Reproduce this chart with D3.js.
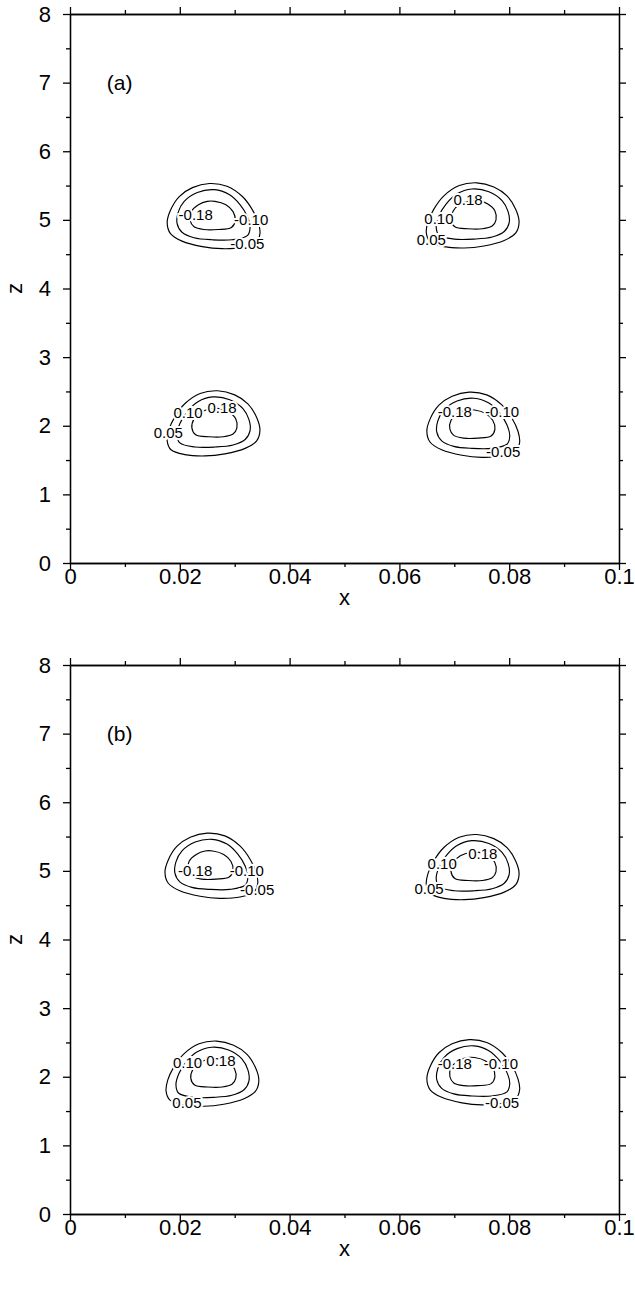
<!DOCTYPE html>
<html>
<head>
<meta charset="utf-8">
<script src="https://cdn.jsdelivr.net/npm/d3@7"></script>
<style>
    body { margin: 0; background: #fff; }
    svg text { font-family: "Liberation Sans", Arial, Helvetica, sans-serif; fill: #000; }
</style>
</head>
<body>
<svg id="chart" width="635" height="1293"></svg>
<script>
/* axis ticks */
let xTicks = [0, 0.02, 0.04, 0.06, 0.08, 0.1];
let xTickLabels = ["0", "0.02", "0.04", "0.06", "0.08", "0.1"];
let xMinor = [0.01, 0.03, 0.05, 0.07, 0.09];
let zTicks = [0, 1, 2, 3, 4, 5, 6, 7, 8];
let zMinor = [0.5, 1.5, 2.5, 3.5, 4.5, 5.5, 6.5, 7.5];
let panelNames = ["(a)", "(b)"];

/* contour shapes of a negative cell (levels 0.18, 0.10, 0.05), offsets [dx, dz]
   from the cell centre; positive cells are mirrored */
let innerShape = [[0.0005, 0.22], [0.0025, 0.17], [0.0038, 0.07], [0.0042, -0.06], [0.0035, -0.16],
    [0.0011, -0.19], [-0.0015, -0.19], [-0.0033, -0.15], [-0.0040, -0.06], [-0.0038, 0.07],
    [-0.0025, 0.17], [-0.0009, 0.22]];
let middleShape = [[0.0004, 0.39], [0.0031, 0.32], [0.0051, 0.17], [0.0064, 0.0], [0.0069, -0.16],
    [0.0064, -0.28], [0.0036, -0.34], [0.0, -0.34], [-0.0033, -0.31], [-0.0055, -0.23],
    [-0.0064, -0.10], [-0.0062, 0.06], [-0.0051, 0.22], [-0.0027, 0.35]];
let outerShape = [[-0.0005, 0.48], [0.0027, 0.44], [0.0055, 0.29], [0.0073, 0.10], [0.0084, -0.09],
    [0.0087, -0.25], [0.0080, -0.38], [0.0055, -0.45], [0.0018, -0.47], [-0.0018, -0.44],
    [-0.0055, -0.36], [-0.0076, -0.25], [-0.0082, -0.09], [-0.0076, 0.09], [-0.0060, 0.29],
    [-0.0036, 0.42]];

/* cell centres per panel: x, z, sign */
let cellsA = [[0.0259, 5.05, -1], [0.0736, 5.06, 1], [0.0264, 2.03, 1], [0.0732, 2.01, -1]];
let cellsB = [[0.0255, 5.07, -1], [0.0736, 5.05, 1], [0.0262, 2.04, 1], [0.0732, 2.06, -1]];

/* contour labels: text, x, z */
let labelsA = [
    ["-0.18", 0.0229, 5.08], ["-0.10", 0.0330, 5.01], ["-0.05", 0.0323, 4.66],
    ["0.18", 0.0725, 5.29], ["0.10", 0.0672, 5.02], ["0.05", 0.0658, 4.71],
    ["0.10", 0.0215, 2.19], ["0.18", 0.0277, 2.26], ["0.05", 0.0179, 1.90],
    ["-0.18", 0.0701, 2.20], ["-0.10", 0.0787, 2.20], ["-0.05", 0.0789, 1.63]
];
let labelsB = [
    ["-0.18", 0.0228, 5.01], ["-0.10", 0.0322, 5.01], ["-0.05", 0.0341, 4.72],
    ["0.18", 0.0752, 5.25], ["0.10", 0.0678, 5.11], ["0.05", 0.0654, 4.74],
    ["0.10", 0.0214, 2.20], ["0.18", 0.0275, 2.23], ["0.05", 0.0213, 1.62],
    ["-0.18", 0.0701, 2.19], ["-0.10", 0.0785, 2.19], ["-0.05", 0.0787, 1.62]
];

let svg = d3.select("#chart");
let margin = {left: 70, width: 549, height: 549};
let panelTops = [14, 665];

function styleAxis(ag) {
    ag.select(".domain").attr("stroke", "#000").attr("stroke-width", 1.3);
    ag.selectAll(".tick line").attr("stroke", "#000").attr("stroke-width", 1.3);
    ag.selectAll(".tick text").attr("font-size", 22).attr("fill", "#000")
        .style("font-family", "'Liberation Sans', Arial, sans-serif");
}

function drawPanel(idx, cells, labels) {
    let top = panelTops[idx];
    let x = d3.scaleLinear().domain([0, 0.1]).range([0, margin.width]);
    let y = d3.scaleLinear().domain([0, 8]).range([margin.height, 0]);

    let g = svg.append("g").attr("transform", "translate(" + margin.left + "," + top + ")");

    /* bottom axis with labels */
    let bottom = g.append("g").attr("transform", "translate(0," + margin.height + ")")
        .call(d3.axisBottom(x).tickValues(xTicks).tickSize(7).tickSizeOuter(0)
            .tickFormat(d => xTickLabels[xTicks.indexOf(d)]));
    styleAxis(bottom);
    bottom.selectAll(".tick text").attr("y", 5).attr("dy", "0.71em");
    styleAxis(g.append("g").attr("transform", "translate(0," + margin.height + ")")
        .call(d3.axisBottom(x).tickValues(xMinor).tickSize(4).tickSizeOuter(0).tickFormat("")));

    /* top axis, ticks only */
    styleAxis(g.append("g").call(d3.axisTop(x).tickValues(xTicks).tickSize(7).tickSizeOuter(0).tickFormat("")));
    styleAxis(g.append("g").call(d3.axisTop(x).tickValues(xMinor).tickSize(4).tickSizeOuter(0).tickFormat("")));

    /* left axis with labels */
    let left = g.append("g")
        .call(d3.axisLeft(y).tickValues(zTicks).tickSize(7).tickSizeOuter(0).tickFormat(d3.format("d")));
    styleAxis(left);
    left.selectAll(".tick text").attr("x", -19);
    styleAxis(g.append("g").call(d3.axisLeft(y).tickValues(zMinor).tickSize(4).tickSizeOuter(0).tickFormat("")));

    /* right axis, ticks only */
    styleAxis(g.append("g").attr("transform", "translate(" + margin.width + ",0)")
        .call(d3.axisRight(y).tickValues(zTicks).tickSize(7).tickSizeOuter(0).tickFormat("")));
    styleAxis(g.append("g").attr("transform", "translate(" + margin.width + ",0)")
        .call(d3.axisRight(y).tickValues(zMinor).tickSize(4).tickSizeOuter(0).tickFormat("")));

    /* axis titles */
    g.append("text").attr("x", margin.width / 2).attr("y", margin.height + 42)
        .attr("text-anchor", "middle").attr("font-size", 22).text("x");
    g.append("text").attr("transform", "translate(-48," + (margin.height / 2) + ") rotate(-90)")
        .attr("text-anchor", "middle").attr("font-size", 22).text("z");

    g.append("text").attr("x", x(0.0067)).attr("y", y(7.0)).attr("dy", "0.35em")
        .attr("font-size", 21).text(panelNames[idx]);

    /* contours */
    let line = d3.line()
        .x(d => x(d[0]))
        .y(d => y(d[1]))
        .curve(d3.curveCatmullRomClosed.alpha(0.5));
    let shapes = [innerShape, middleShape, outerShape];
    cells.forEach(function(c) {
        shapes.forEach(function(s) {
            let pts = s.map(p => [c[0] + (c[2] < 0 ? p[0] : -p[0]), c[1] + p[1]]);
            g.append("path").attr("d", line(pts))
                .attr("fill", "none").attr("stroke", "#000").attr("stroke-width", 1.15);
        });
    });

    g.selectAll("text.clabel").data(labels).enter().append("text")
        .attr("class", "clabel")
        .attr("x", d => x(d[1])).attr("y", d => y(d[2])).attr("dy", "0.36em")
        .attr("text-anchor", "middle").attr("font-size", 15)
        .attr("stroke", "#fff").attr("stroke-width", 4).attr("paint-order", "stroke")
        .text(d => d[0]);
}

drawPanel(0, cellsA, labelsA);
drawPanel(1, cellsB, labelsB);
</script>
</body>
</html>
